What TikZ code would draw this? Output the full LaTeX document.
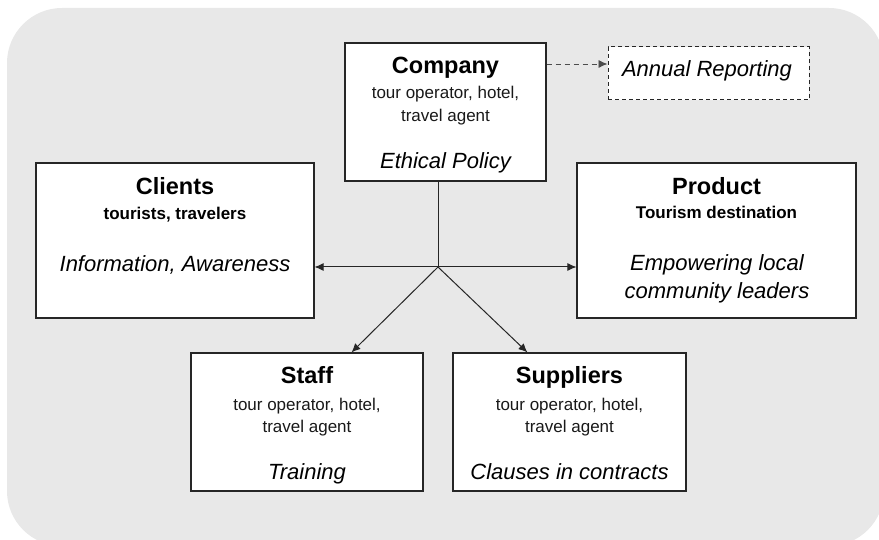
\documentclass[tikz,border=0pt]{standalone}
\usepackage{fontspec}
\setmainfont{Liberation Sans}
\usetikzlibrary{arrows.meta}
\definecolor{bggray}{RGB}{232,232,232}
\begin{document}
\begin{tikzpicture}[x=1pt,y=-1pt,
  box/.style={draw=black!85, fill=white, line width=1.1pt, inner sep=0pt},
  dbox/.style={draw=black!85, fill=white, line width=1pt, inner sep=0pt, dash pattern=on 4pt off 3pt},
  ttl/.style={anchor=base, inner sep=0pt, font=\bfseries\fontsize{23.5}{28}\selectfont},
  sub/.style={anchor=base, inner sep=0pt, font=\fontsize{17}{21}\selectfont, text=black!90},
  bsub/.style={anchor=base, inner sep=0pt, font=\bfseries\fontsize{17}{21}\selectfont},
  act/.style={anchor=base, inner sep=0pt, font=\itshape\fontsize{22}{28}\selectfont},
  conn/.style={draw=black!85, line width=1pt},
  arr/.style={conn, -{Latex[length=9pt,width=8pt]}},
  darr/.style={draw=black!70, line width=0.8pt, dash pattern=on 5pt off 4pt, -{Latex[length=9pt,width=8pt]}}
]
\clip (0,0) rectangle (879,540);
\useasboundingbox (0,0) rectangle (879,540);
\fill[bggray, rounded corners=55pt] (7,8) rectangle (884,546);

% Company
\node[box, minimum width=201pt, minimum height=138pt] (company) at (445.5,112) {};
\node[ttl] (companyT) at (445.5,74) {Company};
\node[sub] (companyS1) at (445.5,99) {tour operator, hotel,};
\node[sub] (companyS2) at (445.5,122) {travel agent};
\node[act] (companyA) at (445.5,169) {Ethical Policy};

% Annual reporting
\node[dbox, minimum width=201pt, minimum height=53pt] (annual) at (708.5,73.5) {};
\node[act] (annualT) at (707,77) {Annual Reporting};

% Clients
\node[box, minimum width=278pt, minimum height=155pt] (clients) at (175,240.5) {};
\node[ttl] (clientsT) at (175,195) {Clients};
\node[bsub] (clientsS) at (175,220) {tourists, travelers};
\node[act] (clientsA) at (175,272) {Information, Awareness};

% Product
\node[box, minimum width=279pt, minimum height=155pt] (product) at (716.5,240.5) {};
\node[ttl] (productT) at (716.5,195) {Product};
\node[bsub] (productS) at (716.5,219) {Tourism destination};
\node[act] (productA1) at (717,271) {Empowering local};
\node[act] (productA2) at (717,299) {community leaders};

% Staff
\node[box, minimum width=232pt, minimum height=138pt] (staff) at (307,422) {};
\node[ttl] (staffT) at (307,384) {Staff};
\node[sub] (staffS1) at (307,410) {tour operator, hotel,};
\node[sub] (staffS2) at (307,432) {travel agent};
\node[act] (staffA) at (307,479) {Training};

% Suppliers
\node[box, minimum width=233pt, minimum height=138pt] (suppliers) at (569.5,422) {};
\node[ttl] (suppliersT) at (569.5,384) {Suppliers};
\node[sub] (suppliersS1) at (569.5,410) {tour operator, hotel,};
\node[sub] (suppliersS2) at (569.5,432) {travel agent};
\node[act] (suppliersA) at (569.5,479) {Clauses in contracts};

% Connectors
\coordinate (hub) at (438,267);
\draw[conn] (hub |- company.south) -- (hub);
\draw[arr] (hub) -- (clients.east |- hub);
\draw[arr] (hub) -- (product.west |- hub);
\draw[arr] (hub) -- ([xshift=161pt]staff.north west);
\draw[arr] (hub) -- ([xshift=75pt]suppliers.north west);
\draw[darr] ([yshift=9.5pt]annual.west -| company.east) -- ([yshift=9.5pt]annual.west);
\end{tikzpicture}
\end{document}
